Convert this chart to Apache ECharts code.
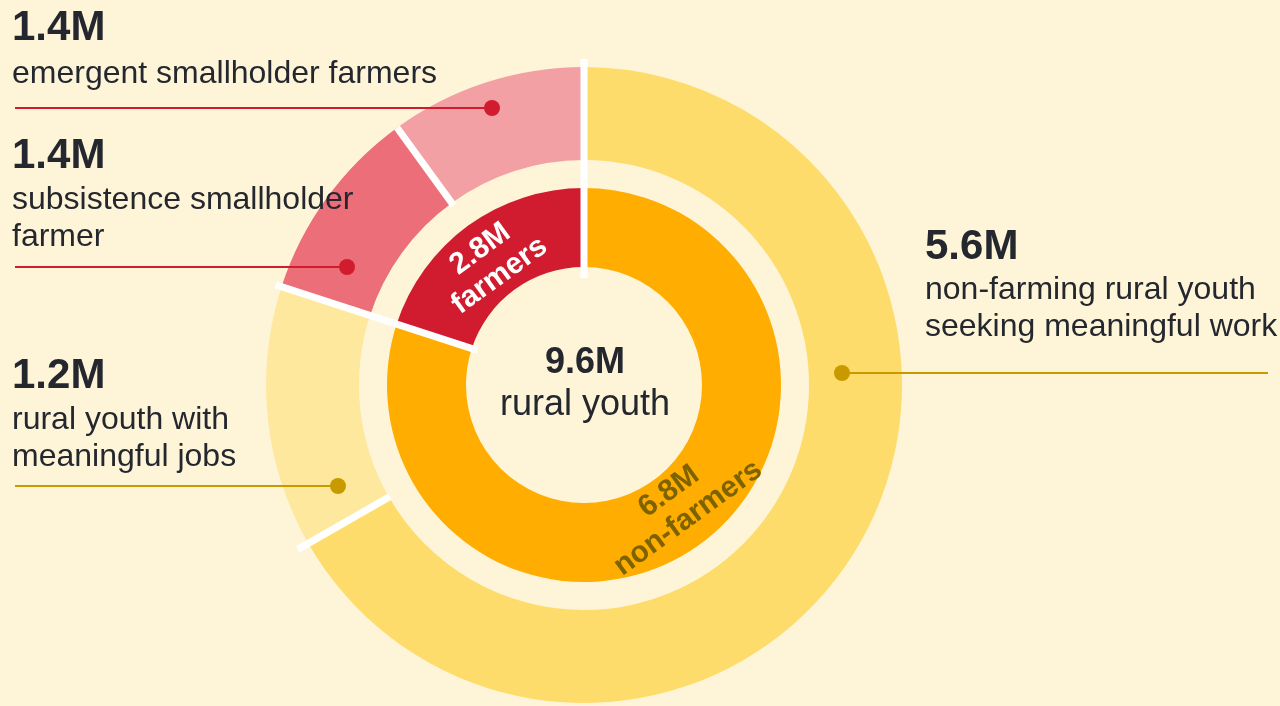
<!DOCTYPE html>
<html>
<head>
<meta charset="utf-8">
<script src="https://cdn.jsdelivr.net/npm/echarts@6/dist/echarts.min.js"></script>
<style>
html,body{margin:0;padding:0;background:#fef5d9;}
#chart{width:1280px;height:706px;}
</style>
</head>
<body>
<div id="chart"></div>
<script>
// ---- data ----
const totalLabel = '9.6M';
const totalName = 'rural youth';

const innerNames = ['farmers', 'non-farmers'];
const innerLabels = ['2.8M', '6.8M'];
const innerArcShares = [20, 80];          // share of the circle as drawn (%)

const outerNames = ['emergent smallholder farmers', 'subsistence smallholder\nfarmer', 'rural youth with\nmeaningful jobs', 'non-farming rural youth\nseeking meaningful work'];
const outerLabels = ['1.4M', '1.4M', '1.2M', '5.6M'];
const outerArcShares = [10, 10, 13.3, 66.7]; // share of the circle as drawn (%)

// ---- styles / layout ----
const FONT = '"Liberation Sans", Arial, Helvetica, sans-serif';
const TEXT = '#25272e';
const innerColors = ['#d01c2e', '#ffad00'];
const innerTextColors = ['#ffffff', '#7d6300'];
const innerLabelOffsets = [[-4, 6], [6, -8]];
const outerColors = ['#f3a0a5', '#eb6e78', '#fee89d', '#fedc6c'];
const leaderColors = ['#d01c2e', '#d01c2e', '#c99a00', '#c99a00'];
const CX = 584, CY = 385;
const annotLayout = [
  {x: 12, numTop: 8, descTop: 56, lineY: 108, dotX: 492, edgeX: 15},
  {x: 12, numTop: 136, descTop: 182, lineY: 267, dotX: 347, edgeX: 15},
  {x: 12, numTop: 356, descTop: 402, lineY: 486, dotX: 338, edgeX: 15},
  {x: 925, numTop: 227, descTop: 272, lineY: 373, dotX: 842, edgeX: 1268}
];

// separator lines: [cumulative share, r0, r1]
function cum(arr, n) { let s = 0; for (let i = 0; i < n; i++) s += arr[i]; return s; }
const separators = [
  [0, 107, 326],
  [cum(innerArcShares, 1), 112, 324],
  [cum(outerArcShares, 1), 222, 318],
  [cum(outerArcShares, 3), 224, 330]
];

const chart = echarts.init(document.getElementById('chart'), null, {renderer: 'canvas'});

const graphics = [];
annotLayout.forEach((L, i) => {
  graphics.push({
    type: 'line', silent: true, z: 100,
    shape: {x1: Math.min(L.edgeX, L.dotX), y1: L.lineY, x2: Math.max(L.edgeX, L.dotX), y2: L.lineY},
    style: {stroke: leaderColors[i], lineWidth: 2}
  });
  graphics.push({
    type: 'circle', silent: true, z: 101,
    shape: {cx: L.dotX, cy: L.lineY, r: 8},
    style: {fill: leaderColors[i]}
  });
  graphics.push({
    type: 'text', silent: true, z: 102, x: L.x, y: L.numTop,
    style: {text: outerLabels[i], font: 'bold 42px ' + FONT, fill: TEXT, lineHeight: 40, verticalAlign: 'top', align: 'left'}
  });
  graphics.push({
    type: 'text', silent: true, z: 102, x: L.x, y: L.descTop,
    style: {text: outerNames[i], font: '32px ' + FONT, fill: TEXT, lineHeight: 37, verticalAlign: 'top', align: 'left'}
  });
});
graphics.push({
  type: 'text', silent: true, z: 102, x: 585, y: 345.5,
  style: {text: totalLabel, font: 'bold 36px ' + FONT, fill: TEXT, lineHeight: 36, verticalAlign: 'top', align: 'center'}
});
graphics.push({
  type: 'text', silent: true, z: 102, x: 585, y: 387.5,
  style: {text: totalName, font: '36px ' + FONT, fill: TEXT, lineHeight: 36, verticalAlign: 'top', align: 'center'}
});

const sepSeries = separators.map(s => ({
  type: 'line', coordinateSystem: 'polar', silent: true, showSymbol: false, symbol: 'none',
  data: [[s[1], s[0]], [s[2], s[0]]],
  lineStyle: {color: '#ffffff', width: 7, cap: 'butt'},
  z: 5, animation: false
}));

chart.setOption({
  backgroundColor: '#fef5d9',
  animation: false,
  polar: {center: [CX, CY], radius: 400},
  radiusAxis: {type: 'value', min: 0, max: 400, show: false},
  angleAxis: {type: 'value', min: 0, max: 100, startAngle: 90, clockwise: false, show: false},
  series: [
    {
      type: 'pie', silent: true, center: [CX, CY], radius: [118, 197],
      startAngle: 90, clockwise: false, avoidLabelOverlap: false,
      itemStyle: {borderWidth: 0},
      label: {
        show: true, position: 'inside', rotate: 'tangential',
        fontFamily: FONT, fontSize: 30, fontWeight: 'bold', lineHeight: 33
      },
      labelLine: {show: false},
      data: innerArcShares.map((v, i) => ({
        value: v, name: innerNames[i],
        itemStyle: {color: innerColors[i]},
        label: {formatter: innerLabels[i] + '\n' + innerNames[i], color: innerTextColors[i], offset: innerLabelOffsets[i]}
      })),
      z: 2
    },
    {
      type: 'pie', silent: true, center: [CX, CY], radius: [225, 318],
      startAngle: 90, clockwise: false, avoidLabelOverlap: false,
      itemStyle: {borderWidth: 0},
      label: {show: false}, labelLine: {show: false},
      data: outerArcShares.map((v, i) => ({
        value: v, name: outerNames[i], itemStyle: {color: outerColors[i]}
      })),
      z: 2
    }
  ].concat(sepSeries),
  graphic: {elements: graphics}
});
</script>
</body>
</html>
